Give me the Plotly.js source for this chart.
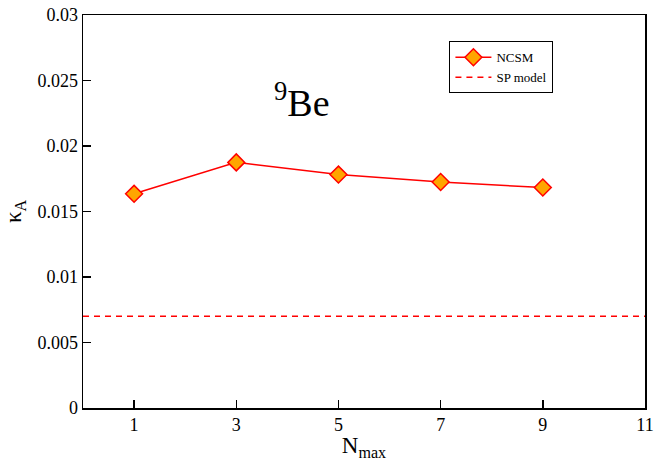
<!DOCTYPE html>
<html><head><meta charset="utf-8">
<script src="https://cdn.plot.ly/plotly-3.0.1.min.js"></script>
<style>body{margin:0;background:#fff}#c{width:656px;height:461px}</style>
</head><body><div id="c"></div>
<script>
var nmax = [1, 3, 5, 7, 9];
var kappaNCSM = [0.01635, 0.01875, 0.01782, 0.01725, 0.01683];
var spModel = 0.007;
var spX = [0, 11];
var xTickVals = [1, 3, 5, 7, 9, 11];
var xTickText = ['1', '3', '5', '7', '9', '11'];
var yTickVals = [0, 0.005, 0.01, 0.015, 0.02, 0.025, 0.03];
var yTickText = ['0', '0.005', '0.01', '0.015', '0.02', '0.025', '0.03'];

var traces = [
  {x: nmax, y: kappaNCSM, mode: 'lines+markers', name: 'NCSM',
   line: {color: '#ff0000', width: 1.5},
   marker: {symbol: 'diamond', size: 13, color: '#ffa500', line: {color: '#ff0000', width: 1.5}}},
  {x: spX, y: [spModel, spModel], mode: 'lines', name: 'SP model',
   line: {color: '#ff0000', width: 1.5, dash: '6px,5px'}}
];
var FF = 'Liberation Serif';
function f(s) { return {family: FF, size: s, color: '#000'}; }
var layout = {
  width: 656, height: 461,
  margin: {l: 83, r: 11, t: 15, b: 53},
  paper_bgcolor: '#fff', plot_bgcolor: '#fff',
  font: f(18),
  showlegend: true,
  legend: {x: 0.652, y: 0.933, xanchor: 'left', yanchor: 'top',
    bordercolor: '#000', borderwidth: 1, bgcolor: '#fff',
    font: f(13), tracegroupgap: 0, itemwidth: 36},
  xaxis: {range: [0, 11], tickmode: 'array', tickvals: xTickVals, ticktext: xTickText,
    ticks: 'inside', ticklen: 8,
    tickwidth: 1.5, tickcolor: '#000', showline: true, linecolor: '#000', linewidth: 1.5,
    mirror: true, showgrid: false, zeroline: false,
    tickfont: f(18),
    title: {text: 'N<sub>max</sub>', font: f(23), standoff: 2}},
  yaxis: {range: [0, 0.03], tickmode: 'array', tickvals: yTickVals, ticktext: yTickText,
    ticks: 'inside', ticklen: 8, tickwidth: 1.5, tickcolor: '#000', showline: true,
    linecolor: '#000', linewidth: 1.5, mirror: true, showgrid: false, zeroline: false,
    tickfont: f(18),
    title: {text: 'κ<sub>A</sub>', font: f(23), standoff: 9}},
  annotations: [{text: '<sup>9</sup>Be', x: 0.39, y: 0.85, xref: 'paper', yref: 'paper',
    showarrow: false, font: f(38)}]
};
Plotly.newPlot('c', traces, layout, {displayModeBar: false, staticPlot: true});
</script></body></html>
